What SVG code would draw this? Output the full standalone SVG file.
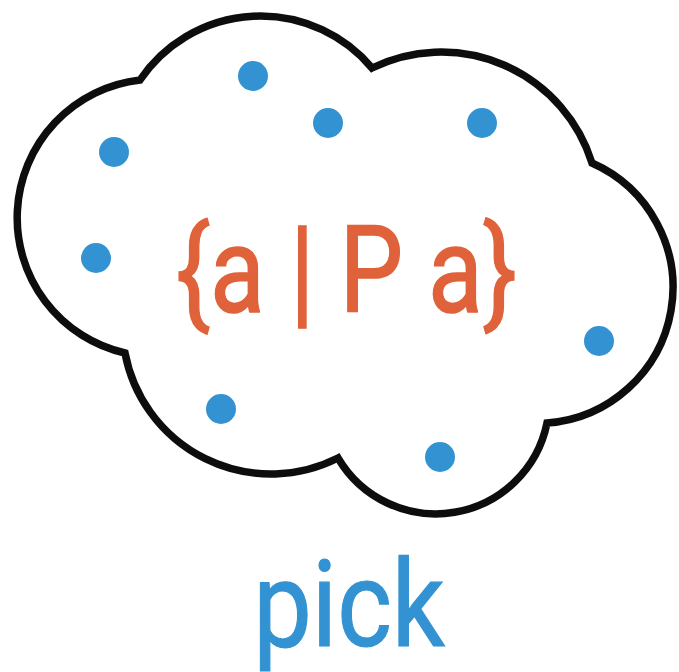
<svg xmlns="http://www.w3.org/2000/svg" width="679" height="672" viewBox="0 0 679 672">
<style>
.cloud{fill:#ffffff;stroke:#0d0d0d;stroke-width:7.5;stroke-linejoin:miter}
.dot{fill:#3392d2}
.set{font-family:Roboto,"Liberation Sans",sans-serif;font-size:120px;fill:#e0623a;stroke:#e0623a;stroke-width:1.6}
.lbl{font-family:Roboto,"Liberation Sans",sans-serif;font-size:120px;fill:#3392d2;stroke:#3392d2;stroke-width:1.2}
</style>
<rect width="679" height="672" fill="#ffffff"/>
<g id="cloud">
<path class="cloud" d="M140 80 A145.5 145.5 0 0 1 372 68 A158 158 0 0 1 592 163 A136 136 0 0 1 547 423 A113.5 113.5 0 0 1 338 458 A148.5 148.5 0 0 1 125 353 A138.7 138.7 0 0 1 140 80 Z"/>
</g>
<g id="dots">
<circle class="dot" cx="253" cy="76" r="15"/>
<circle class="dot" cx="328" cy="123" r="15"/>
<circle class="dot" cx="482" cy="123" r="15"/>
<circle class="dot" cx="114" cy="152" r="15"/>
<circle class="dot" cx="96" cy="258" r="15"/>
<circle class="dot" cx="599" cy="341" r="15"/>
<circle class="dot" cx="221" cy="409" r="15"/>
<circle class="dot" cx="440" cy="457" r="15"/>
</g>
<g id="set-label">
<text class="set" transform="translate(346.5 312) scale(0.84 1)" text-anchor="middle">{a | P a}</text>
</g>
<g id="pick-label">
<text class="lbl" transform="translate(349 646) scale(0.87 1)" text-anchor="middle">pick</text>
</g>
</svg>
